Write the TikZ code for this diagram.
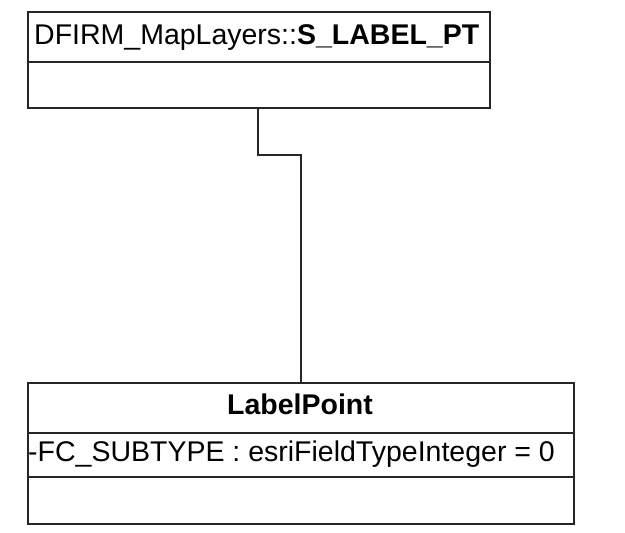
\documentclass[tikz,border=0pt]{standalone}
\usepackage{fontspec}
\setmainfont{Liberation Sans}
\begin{document}
\begin{tikzpicture}[x=1pt,y=-1pt,
  umlbox/.style={draw=black!85, line width=1.8pt, anchor=north west, inner sep=0pt},
  umlline/.style={draw=black!85, line width=1.8pt},
  txt/.style={inner sep=0pt, font=\fontsize{28.5}{32}\selectfont}]
\useasboundingbox (0,0) rectangle (625,533);
% top class
\node[umlbox, minimum width=462pt, minimum height=96pt] (top) at (27,11) {};
\draw[umlline] (27,62) -- (489,62);
\node[txt, anchor=base west] (topname) at (34,44) {DFIRM\_MapLayers::\textbf{S\_LABEL\_PT}};
% bottom class
\node[umlbox, minimum width=546pt, minimum height=141pt] (lp) at (27,382) {};
\draw[umlline] (27,433) -- (573,433);
\draw[umlline] (27,477) -- (573,477);
\node[txt, anchor=base] (lpname) at (300,414) {\textbf{LabelPoint}};
\node[txt, anchor=base west] (attr) at (28,461) {-FC\_SUBTYPE : esriFieldTypeInteger = 0};
% connector
\coordinate (bend) at (258,155);
\draw[umlline] (top.south -| bend) -- (bend) -| (lp.north);
\end{tikzpicture}
\end{document}
